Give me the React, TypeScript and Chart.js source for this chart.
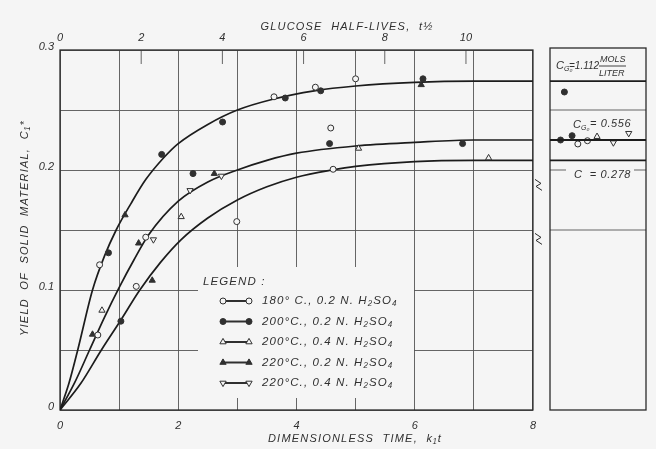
import React, { useEffect, useRef } from 'react';
import { Chart, registerables } from 'chart.js';

Chart.register(...registerables);

// ---------- data ----------
const xTickLabels = ['0', '2', '4', '6', '8'];
const yTickLabels = ['0', '0.1', '0.2', '0.3'];
const topTickLabels = ['0', '2', '4', '6', '8', '10'];
const topAxisMax = 11.65; // glucose half-lives at right edge

// fitted curves
const curveHighX = [0, 0.15, 0.3, 0.55, 0.75, 0.95, 1.2, 1.45, 1.75, 2.0, 2.5, 3.0, 3.6, 4.3, 5.0, 6.0, 7.0, 8.0];
const curveHighY = [0, 0.022, 0.05, 0.1, 0.128, 0.15, 0.172, 0.192, 0.21, 0.222, 0.238, 0.25, 0.259, 0.266, 0.27, 0.273, 0.274, 0.274];
const curveMidX = [0, 0.25, 0.5, 0.75, 1.0, 1.25, 1.5, 2.0, 2.5, 3.0, 3.5, 4.0, 5.0, 6.0, 7.0, 8.0];
const curveMidY = [0, 0.023, 0.05, 0.077, 0.102, 0.125, 0.146, 0.174, 0.19, 0.2, 0.208, 0.214, 0.22, 0.223, 0.225, 0.225];
const curveLowX = [0, 0.35, 0.7, 1.03, 1.35, 1.7, 2.05, 2.5, 3.0, 3.5, 4.0, 4.6, 5.0, 6.0, 7.0, 8.0];
const curveLowY = [0, 0.022, 0.05, 0.075, 0.1, 0.123, 0.142, 0.16, 0.175, 0.186, 0.194, 0.2, 0.203, 0.207, 0.208, 0.208];

// experimental points
const s180X = [0.64, 0.67, 1.29, 1.45, 2.99, 3.62, 4.32, 4.58, 4.62, 5.0];
const s180Y = [0.0625, 0.121, 0.103, 0.144, 0.157, 0.261, 0.269, 0.235, 0.2006, 0.276];
const s200aX = [0.82, 1.03, 1.72, 2.25, 2.75, 3.81, 4.41, 4.56, 6.14, 6.81];
const s200aY = [0.131, 0.074, 0.213, 0.197, 0.24, 0.26, 0.266, 0.222, 0.276, 0.222];
const s200bX = [0.71, 2.05, 5.05, 7.25];
const s200bY = [0.083, 0.161, 0.218, 0.21];
const s220aX = [0.55, 1.1, 1.33, 1.56, 2.61, 6.11];
const s220aY = [0.063, 0.1625, 0.139, 0.108, 0.197, 0.271];
const s220bX = [1.58, 2.2, 2.73];
const s220bY = [0.142, 0.183, 0.195];

// side panel (concentration series), x is arbitrary 0..1
const p180X = [0.29, 0.39];
const p180Y = [0.2217, 0.2244];
const p200aX = [0.11, 0.15, 0.23];
const p200aY = [0.225, 0.265, 0.2286];
const p200bX = [0.49];
const p200bY = [0.2278];
const p220bX = [0.66, 0.82];
const p220bY = [0.2228, 0.2306];
const panelLevels = [curveHighY[curveHighY.length - 1], curveMidY[curveMidY.length - 1], curveLowY[curveLowY.length - 1]];

const legendLabels = [
  '180° C., 0.2 N. H₂SO₄',
  '200°C., 0.2 N. H₂SO₄',
  '200°C., 0.4 N. H₂SO₄',
  '220°C., 0.2 N. H₂SO₄',
  '220°C., 0.4 N. H₂SO₄',
];

// ---------- styles ----------
const BG = '#f5f5f5';
const INK = '#303030';
const GRID = '#555555';
const FONT = '"Liberation Sans", "DejaVu Sans", sans-serif';

type MarkStyle = { shape: 'circle' | 'triangle'; fill: boolean; rotation: number; r: number };
const markStyles: MarkStyle[] = [
  { shape: 'circle', fill: false, rotation: 0, r: 3 },
  { shape: 'circle', fill: true, rotation: 0, r: 3 },
  { shape: 'triangle', fill: false, rotation: 0, r: 3.6 },
  { shape: 'triangle', fill: true, rotation: 0, r: 3.6 },
  { shape: 'triangle', fill: false, rotation: 180, r: 3.6 },
];

const zip = (xs: number[], ys: number[]) => xs.map((x, i) => ({ x, y: ys[i] }));

const curveDs = (xs: number[], ys: number[]) => ({
  data: zip(xs, ys),
  showLine: true,
  borderColor: '#1c1c1c',
  borderWidth: 1.7,
  pointRadius: 0,
  cubicInterpolationMode: 'monotone' as const,
  fill: false,
});

const pointDs = (label: string, xs: number[], ys: number[], s: MarkStyle) => ({
  label,
  data: zip(xs, ys),
  showLine: false,
  pointStyle: s.shape,
  pointRotation: s.rotation,
  pointRadius: s.r,
  pointBorderWidth: 1,
  borderColor: INK,
  backgroundColor: s.fill ? INK : BG,
});

function drawMark(ctx: CanvasRenderingContext2D, s: MarkStyle, x: number, y: number) {
  ctx.beginPath();
  if (s.shape === 'circle') {
    ctx.arc(x, y, s.r, 0, Math.PI * 2);
  } else {
    const d = s.rotation === 180 ? -1 : 1;
    ctx.moveTo(x, y - d * s.r);
    ctx.lineTo(x - s.r * 0.87, y + d * s.r * 0.5);
    ctx.lineTo(x + s.r * 0.87, y + d * s.r * 0.5);
    ctx.closePath();
  }
  ctx.fillStyle = s.fill ? INK : BG;
  ctx.fill();
  ctx.strokeStyle = INK;
  ctx.lineWidth = 1;
  ctx.stroke();
}

const labelFor = (v: number, step: number, labels: string[]) => {
  const k = v / step;
  const idx = Math.round(k);
  if (Math.abs(k - idx) > 1e-6) return '';
  return labels[idx] ?? '';
};

const tickFont = { family: FONT, style: 'italic' as const, size: 11 };

function setSpacing(ctx: CanvasRenderingContext2D, v: string) {
  (ctx as any).letterSpacing = v;
}

const mainDecor = {
  id: 'mainDecor',
  beforeDatasetsDraw(chart: any) {
    const { ctx, chartArea: a, scales } = chart;
    ctx.save();
    // legend clearing (grid is interrupted by the legend)
    ctx.fillStyle = BG;
    ctx.fillRect(198, 267, 216, 131);
    // top axis inner ticks
    ctx.strokeStyle = GRID;
    ctx.lineWidth = 0.9;
    for (let v = 2; v <= 10; v += 2) {
      const px = scales.x2.getPixelForValue(v);
      ctx.beginPath();
      ctx.moveTo(px, a.top);
      ctx.lineTo(px, a.top + 14);
      ctx.stroke();
    }
    // frame
    ctx.strokeStyle = '#2a2a2a';
    ctx.lineWidth = 1.3;
    ctx.strokeRect(a.left, a.top, a.right - a.left, a.bottom - a.top);
    // break marks
    ctx.lineWidth = 1;
    const zig = (y: number) => {
      ctx.beginPath();
      ctx.moveTo(535, y - 5);
      ctx.lineTo(541, y - 1);
      ctx.lineTo(536, y + 2);
      ctx.lineTo(542, y + 6);
      ctx.stroke();
    };
    zig(scales.y.getPixelForValue(0.188));
    zig(scales.y.getPixelForValue(0.143));
    ctx.restore();
  },
  afterDatasetsDraw(chart: any) {
    const { ctx, chartArea: a } = chart;
    ctx.save();
    ctx.fillStyle = INK;
    ctx.font = `italic 11.5px ${FONT}`;
    ctx.textBaseline = 'middle';
    setSpacing(ctx, '1.1px');
    // legend
    ctx.textAlign = 'left';
    ctx.fillText('LEGEND :', 203, 282);
    chart.data.datasets
      .filter((d: any) => d.label)
      .forEach((d: any, i: number) => {
        const y = 301 + i * 20.5;
        const s = markStyles[i];
        ctx.strokeStyle = INK;
        ctx.lineWidth = 2;
        ctx.beginPath();
        ctx.moveTo(223, y);
        ctx.lineTo(249, y);
        ctx.stroke();
        drawMark(ctx, s, 223, y);
        drawMark(ctx, s, 249, y);
        ctx.fillStyle = INK;
        ctx.fillText(d.label, 262, y);
      });
    // axis titles
    ctx.font = `italic 11px ${FONT}`;
    ctx.textAlign = 'center';
    setSpacing(ctx, '1.2px');
    ctx.fillText('GLUCOSE  HALF-LIVES,  t½', 347, 27);
    ctx.fillText('DIMENSIONLESS  TIME,  k₁t', 355, 439);
    ctx.translate(25, (a.top + a.bottom) / 2 - 2);
    ctx.rotate(-Math.PI / 2);
    ctx.fillText('YIELD  OF  SOLID  MATERIAL,  C₁*', 0, 0);
    ctx.restore();
  },
};

const panelDecor = {
  id: 'panelDecor',
  beforeDatasetsDraw(chart: any) {
    const { ctx, chartArea: a, scales } = chart;
    const yp = (v: number) => scales.y.getPixelForValue(v);
    ctx.save();
    ctx.strokeStyle = GRID;
    ctx.lineWidth = 0.9;
    [0.15, 0.25].forEach((v) => {
      ctx.beginPath();
      ctx.moveTo(a.left, yp(v));
      ctx.lineTo(a.right, yp(v));
      ctx.stroke();
    });
    ctx.beginPath();
    ctx.moveTo(a.left, yp(0.2));
    ctx.lineTo(a.left + 16, yp(0.2));
    ctx.moveTo(a.right - 12, yp(0.2));
    ctx.lineTo(a.right, yp(0.2));
    ctx.stroke();
    ctx.strokeStyle = '#2a2a2a';
    ctx.lineWidth = 1.3;
    ctx.strokeRect(a.left, a.top - 2, a.right - a.left, a.bottom - a.top + 2);
    ctx.restore();
  },
  afterDatasetsDraw(chart: any) {
    const { ctx, chartArea: a } = chart;
    const L = a.left;
    ctx.save();
    ctx.fillStyle = INK;
    ctx.textBaseline = 'middle';
    ctx.textAlign = 'left';
    const cg = (x: number, y: number) => {
      ctx.font = `italic 11px ${FONT}`;
      ctx.fillText('C', x, y);
      ctx.font = `italic 7px ${FONT}`;
      ctx.fillText('G₀', x + 8, y + 3);
    };
    cg(L + 6, 66);
    ctx.font = `italic 10px ${FONT}`;
    ctx.fillText('=1.112', L + 19, 66);
    ctx.font = `italic 9px ${FONT}`;
    ctx.fillText('MOLS', L + 50, 59);
    ctx.fillText('LITER', L + 49, 73);
    ctx.strokeStyle = INK;
    ctx.lineWidth = 0.9;
    ctx.beginPath();
    ctx.moveTo(L + 49, 66);
    ctx.lineTo(L + 76, 66);
    ctx.stroke();
    cg(L + 23, 125);
    ctx.font = `italic 11px ${FONT}`;
    setSpacing(ctx, '0.6px');
    ctx.fillText('= 0.556', L + 40, 124);
    ctx.fillText('C  = 0.278', L + 24, 175);
    ctx.restore();
  },
};

export default function App() {
  const mainRef = useRef<HTMLCanvasElement>(null);
  const panelRef = useRef<HTMLCanvasElement>(null);

  useEffect(() => {
    document.body.style.margin = '0';
    document.body.style.background = BG;

    const main = new Chart(mainRef.current!, {
      type: 'scatter',
      data: {
        datasets: [
          pointDs(legendLabels[0], s180X, s180Y, markStyles[0]),
          pointDs(legendLabels[1], s200aX, s200aY, markStyles[1]),
          pointDs(legendLabels[2], s200bX, s200bY, markStyles[2]),
          pointDs(legendLabels[3], s220aX, s220aY, markStyles[3]),
          pointDs(legendLabels[4], s220bX, s220bY, markStyles[4]),
          curveDs(curveHighX, curveHighY),
          curveDs(curveMidX, curveMidY),
          curveDs(curveLowX, curveLowY),
        ] as any,
      },
      options: {
        responsive: false,
        animation: false,
        layout: { padding: { left: 0, right: 12, top: 0, bottom: 0 } },
        plugins: { legend: { display: false }, tooltip: { enabled: false } },
        scales: {
          x: {
            type: 'linear',
            position: 'bottom',
            min: 0,
            max: 8,
            afterFit: (s: any) => { s.height = 39; },
            grid: { color: GRID, lineWidth: 0.9, drawTicks: false },
            border: { display: false },
            ticks: {
              stepSize: 1,
              padding: 9,
              color: INK,
              font: tickFont,
              maxRotation: 0,
              autoSkip: false,
              callback: (v: any) => labelFor(Number(v), 2, xTickLabels),
            },
          },
          x2: {
            type: 'linear',
            position: 'top',
            min: 0,
            max: topAxisMax,
            afterFit: (s: any) => { s.height = 50; },
            grid: { display: false, drawTicks: false },
            border: { display: false },
            ticks: {
              stepSize: 2,
              includeBounds: false,
              padding: 5,
              color: INK,
              font: tickFont,
              maxRotation: 0,
              autoSkip: false,
              callback: (v: any) => labelFor(Number(v), 2, topTickLabels),
            },
          },
          y: {
            type: 'linear',
            min: 0,
            max: 0.3,
            afterFit: (s: any) => { s.width = 60; },
            grid: { color: GRID, lineWidth: 0.9, drawTicks: false },
            border: { display: false },
            ticks: {
              stepSize: 0.05,
              padding: 6,
              labelOffset: -3,
              color: INK,
              font: tickFont,
              autoSkip: false,
              callback: (v: any) => labelFor(Number(v), 0.1, yTickLabels),
            },
          },
        },
      } as any,
      plugins: [mainDecor],
    });

    const levelDs = (v: number) => ({
      data: [{ x: 0, y: v }, { x: 1, y: v }],
      showLine: true,
      borderColor: '#1c1c1c',
      borderWidth: 1.8,
      pointRadius: 0,
    });

    const panel = new Chart(panelRef.current!, {
      type: 'scatter',
      data: {
        datasets: [
          ...panelLevels.map(levelDs),
          pointDs('', p180X, p180Y, markStyles[0]),
          pointDs('', p200aX, p200aY, markStyles[1]),
          pointDs('', p200bX, p200bY, markStyles[2]),
          pointDs('', p220bX, p220bY, markStyles[4]),
        ] as any,
      },
      options: {
        responsive: false,
        animation: false,
        layout: { padding: { left: 3, right: 3, top: 50, bottom: 39 } },
        plugins: { legend: { display: false }, tooltip: { enabled: false } },
        scales: {
          x: { type: 'linear', min: 0, max: 1, display: false },
          y: { type: 'linear', min: 0, max: 0.3, display: false },
        },
      } as any,
      plugins: [panelDecor],
    });

    return () => {
      main.destroy();
      panel.destroy();
    };
  }, []);

  return (
    <div style={{ position: 'relative', width: 656, height: 449, background: BG, overflow: 'hidden' }}>
      <canvas
        ref={mainRef}
        width={545}
        height={449}
        style={{ position: 'absolute', left: 0, top: 0, width: 545, height: 449 }}
      />
      <canvas
        ref={panelRef}
        width={106}
        height={449}
        style={{ position: 'absolute', left: 545, top: 0, width: 106, height: 449 }}
      />
    </div>
  );
}
